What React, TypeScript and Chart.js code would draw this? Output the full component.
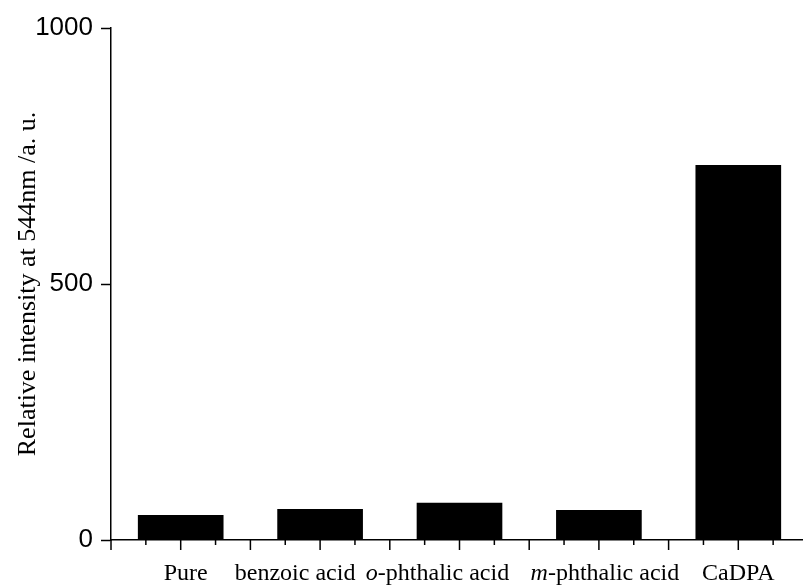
import React, { useEffect, useRef } from "react";
import { Chart, registerables } from "chart.js";

Chart.register(...registerables);

const categories = ["Pure", "benzoic acid", "o-phthalic acid", "m-phthalic acid", "CaDPA"];
const italicPrefix = ["", "", "o", "m", ""];
const labelShift = [5, -25, -22, 6, 0];
const intensity = [48, 60, 72, 58, 732];
const yTicks = [0, 500, 1000];
const yTitle = "Relative intensity at 544nm /a. u.";

const xTickPlugin = {
  id: "xTickPlugin",
  afterDraw(chart: any) {
    const xs = chart.scales.x;
    const ctx = chart.ctx;
    const y0 = chart.chartArea.bottom;
    ctx.save();
    ctx.strokeStyle = "#000";
    ctx.lineWidth = 1.5;
    const n = categories.length;
    for (let k = 0; k <= n * 4; k++) {
      const v = -0.5 + k * 0.25;
      const px = xs.getPixelForValue(v);
      const len = k % 2 === 0 ? 10 : 5;
      ctx.beginPath();
      ctx.moveTo(px, y0);
      ctx.lineTo(px, y0 + len);
      ctx.stroke();
    }
    ctx.fillStyle = "#000";
    ctx.textBaseline = "alphabetic";
    ctx.textAlign = "left";
    const normalFont = '24px "Liberation Serif", "Times New Roman", serif';
    const italicFont = 'italic 24px "Liberation Serif", "Times New Roman", serif';
    categories.forEach((lab, i) => {
      const pre = italicPrefix[i];
      const rest = pre ? lab.slice(pre.length) : lab;
      ctx.font = italicFont;
      const wPre = pre ? ctx.measureText(pre).width : 0;
      ctx.font = normalFont;
      const wRest = ctx.measureText(rest).width;
      const total = wPre + wRest;
      const cx = xs.getPixelForValue(i) + labelShift[i];
      let x = cx - total / 2;
      const by = y0 + 40;
      if (pre) {
        ctx.font = italicFont;
        ctx.fillText(pre, x, by);
        x += wPre;
      }
      ctx.font = normalFont;
      ctx.fillText(rest, x, by);
    });
    ctx.restore();
  },
};

export default function App() {
  const ref = useRef<HTMLCanvasElement>(null);
  useEffect(() => {
    if (!ref.current) return;
    const chart = new Chart(ref.current, {
      type: "bar",
      data: {
        labels: categories,
        datasets: [
          {
            data: intensity,
            backgroundColor: "#000",
            borderWidth: 0,
            barThickness: 85,
          },
        ],
      },
      options: {
        animation: false,
        responsive: false,
        devicePixelRatio: 1,
        layout: { padding: { top: 28, right: 0, left: 0, bottom: 0 } },
        plugins: { legend: { display: false }, tooltip: { enabled: false } },
        scales: {
          x: {
            type: "category",
            offset: true,
            grid: { display: false },
            ticks: { display: false },
            border: { display: true, color: "#000", width: 1.5 },
            afterFit: (s: any) => {
              s.height = 48;
            },
          },
          y: {
            min: 0,
            max: 1000,
            afterBuildTicks: (s: any) => {
              s.ticks = yTicks.map((v) => ({ value: v }));
            },
            grid: {
              display: true,
              drawOnChartArea: false,
              drawTicks: true,
              tickLength: 10,
              tickColor: "#000",
              tickWidth: 1.5,
            },
            border: { display: true, color: "#000", width: 1.5 },
            ticks: {
              color: "#000",
              padding: 8,
              callback: (v: any) => String(v),
              font: { family: '"Liberation Sans", Arial, sans-serif', size: 26 },
            },
            title: {
              display: true,
              text: yTitle,
              color: "#000",
              padding: { top: 13, bottom: 0 },
              font: { family: '"Liberation Serif", "Times New Roman", serif', size: 26, weight: "normal" },
            },
            afterFit: (s: any) => {
              s.width = 111;
            },
          },
        },
      },
      plugins: [xTickPlugin],
    });
    return () => chart.destroy();
  }, []);
  return (
    <div style={{ position: "fixed", left: 0, top: 0, width: 803, height: 588, overflow: "hidden", background: "#fff" }}>
      <canvas ref={ref} width={808} height={588} style={{ display: "block" }} />
    </div>
  );
}
